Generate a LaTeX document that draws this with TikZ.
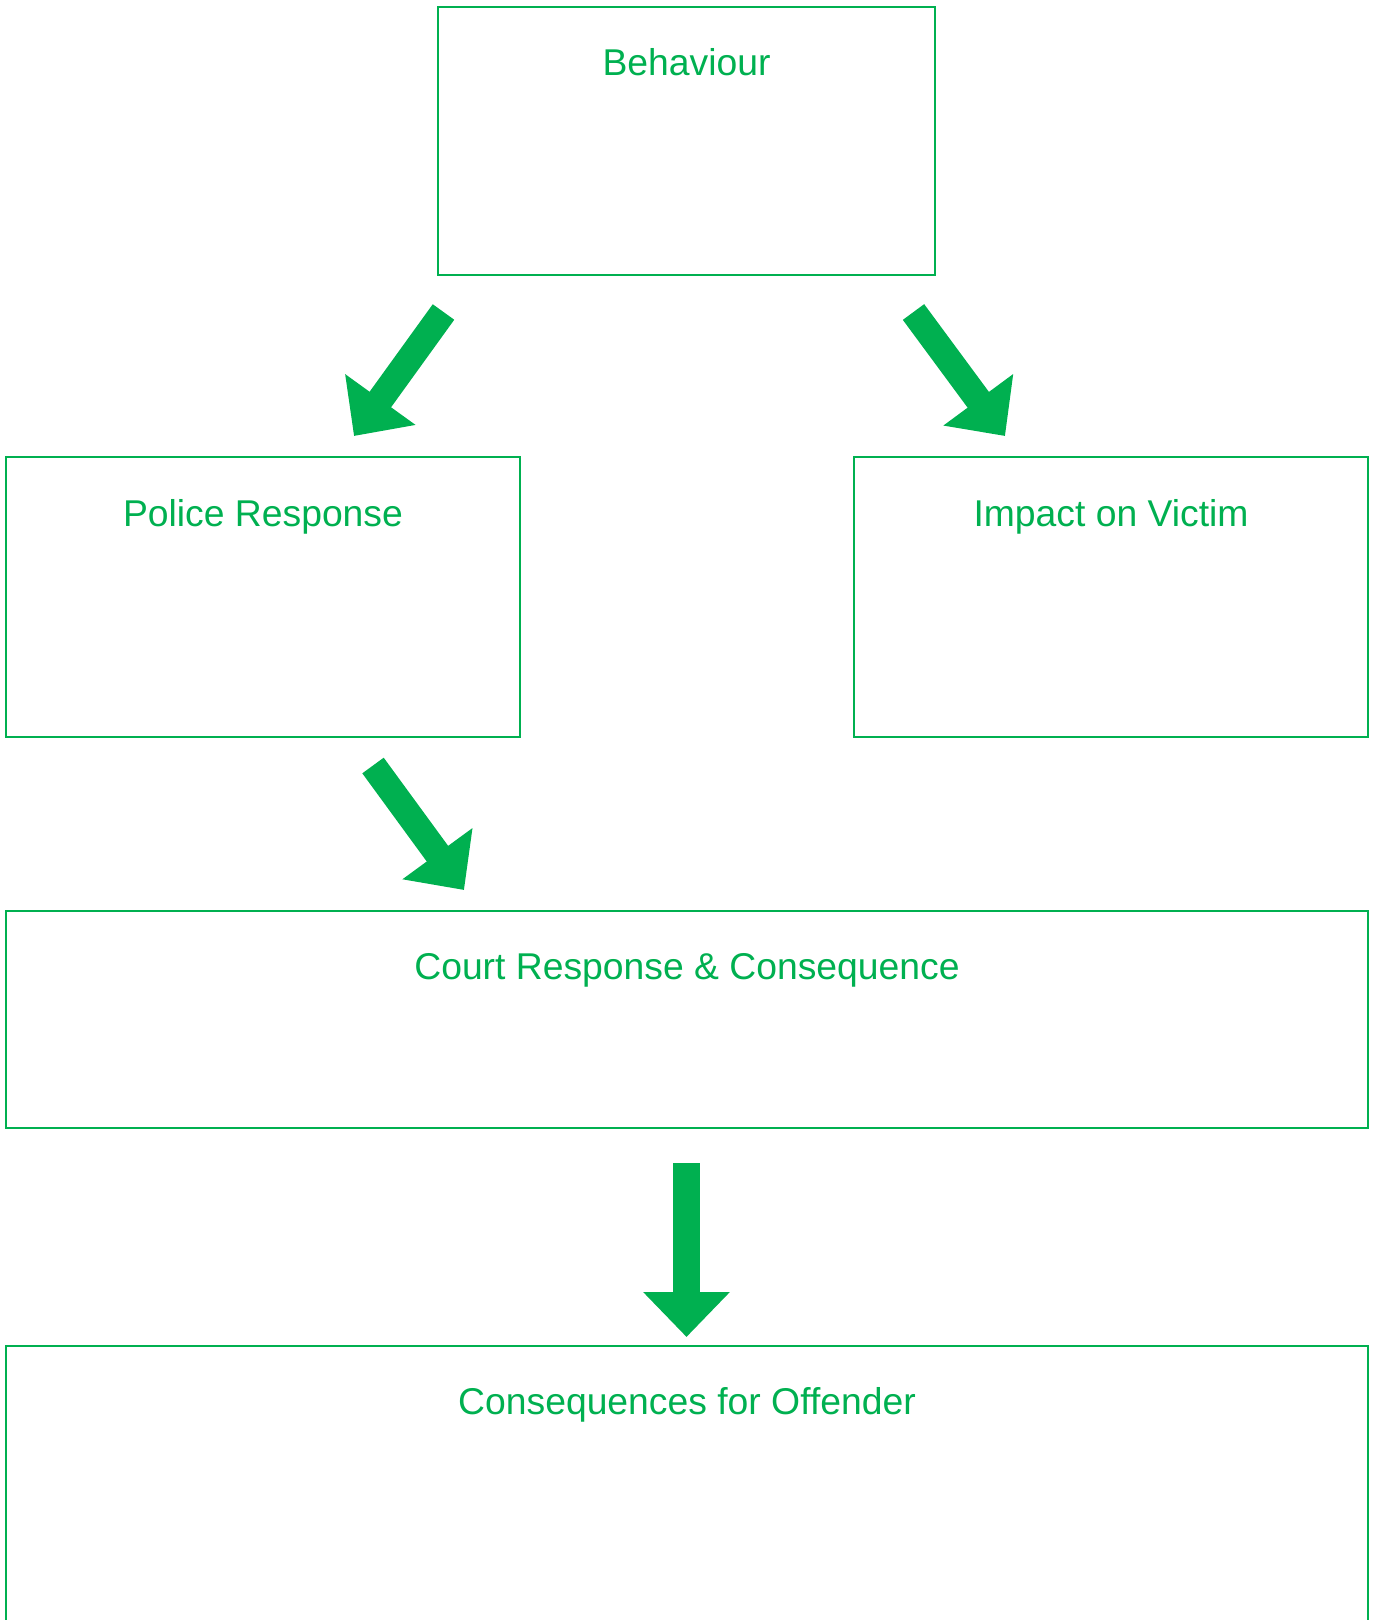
\documentclass[tikz,border=0pt]{standalone}
\usepackage{fontspec}
\setmainfont{Liberation Sans}
\usetikzlibrary{arrows.meta}
\definecolor{offgreen}{RGB}{0,176,80}
\tikzset{
  box/.style={draw=offgreen, line width=2.3pt, rectangle, inner sep=0pt, outer sep=0pt},
  lbl/.style={text=offgreen, font=\fontsize{37.3}{42}\selectfont, inner sep=0pt, anchor=base},
  blockarrow/.style={draw=offgreen, line width=26.5pt, -{Triangle[length=45pt,width=84pt]}}
}
\begin{document}
\begin{tikzpicture}[x=1pt,y=-1pt]
\useasboundingbox (0,0) rectangle (1375,1620);
\clip (0,0) rectangle (1375,1620);
% boxes
\node[box, anchor=north west, minimum width=497pt, minimum height=268pt] (beh) at (438,7) {};
\node[box, anchor=north west, minimum width=514pt, minimum height=280pt] (pol) at (6,457) {};
\node[box, anchor=north west, minimum width=514pt, minimum height=280pt] (imp) at (854,457) {};
\node[box, anchor=north west, minimum width=1362pt, minimum height=217pt] (court) at (6,911) {};
\node[box, anchor=north west, minimum width=1362pt, minimum height=290pt] (cons) at (6,1346) {};
% labels
\node[lbl] (behT) at ([yshift=-68pt]beh.north) {Behaviour};
\node[lbl] (polT) at ([yshift=-69pt]pol.north) {Police Response};
\node[lbl] (impT) at ([yshift=-69pt]imp.north) {Impact on Victim};
\node[lbl] (courtT) at ([yshift=-68pt]court.north) {Court Response \& Consequence};
\node[lbl] (consT) at ([yshift=-68pt]cons.north) {Consequences for Offender};
% arrow end points
\coordinate (a1s) at (443.5,312);
\coordinate (a1e) at (354,436);
\coordinate (a2s) at (913.5,312);
\coordinate (a2e) at (1005,436);
\coordinate (a3s) at (373,765.5);
\coordinate (a3e) at (464,890);
\coordinate (a4s) at (686.5,1163);
\coordinate (a4e) at (686.5,1337);
\draw[blockarrow] (a1s) -- (a1e);
\draw[blockarrow] (a2s) -- (a2e);
\draw[blockarrow] (a3s) -- (a3e);
\draw[blockarrow] (a4s) -- (a4e);
\end{tikzpicture}
\end{document}
